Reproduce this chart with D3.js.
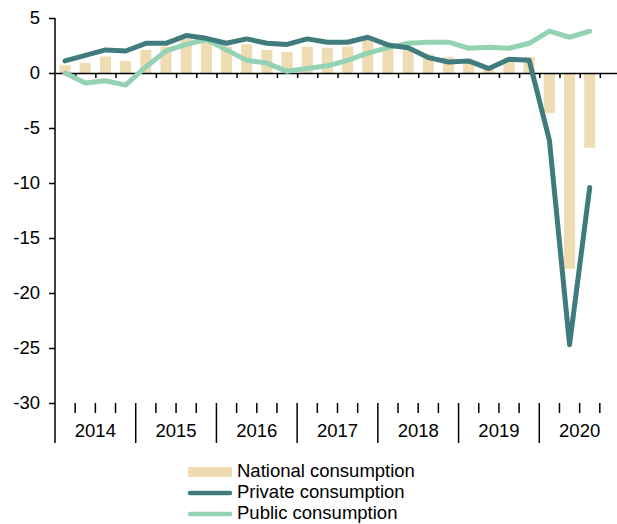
<!DOCTYPE html>
<html>
<head>
<meta charset="utf-8">
<script src="https://cdn.jsdelivr.net/npm/d3@7"></script>
<style>
  body { margin: 0; background: #fff; }
  svg { display: block; font-family: "Liberation Sans", Arial, sans-serif; }
</style>
</head>
<body>
<div id="chart"></div>
<script>
// quarters 2014Q1 .. 2020Q4 (last quarter has no data yet)
var years = ["2014", "2015", "2016", "2017", "2018", "2019", "2020"];
var quarters = [];
years.forEach(function(y) { for (var q = 1; q <= 4; q++) quarters.push(y + "Q" + q); });

var national = [0.7, 0.9, 1.5, 1.1, 2.1, 2.4, 3.1, 3.0, 2.4, 2.6, 2.1, 1.9, 2.4, 2.3,
                2.4, 3.0, 2.6, 2.2, 1.7, 1.45, 1.05, 0.7, 1.35, 1.45, -3.65, -17.8, -6.8];
var privateC = [1.1, 1.6, 2.1, 2.0, 2.7, 2.7, 3.4, 3.15, 2.7, 3.1, 2.7, 2.6, 3.1, 2.8,
                2.8, 3.25, 2.55, 2.3, 1.4, 1.0, 1.1, 0.4, 1.25, 1.15, -6.1, -24.7, -10.4];
var publicC = [0.0, -0.9, -0.7, -1.1, 0.55, 2.0, 2.6, 3.05, 2.1, 1.15, 0.9, 0.15, 0.4, 0.65,
               1.15, 1.8, 2.3, 2.7, 2.8, 2.8, 2.25, 2.35, 2.25, 2.7, 3.8, 3.25, 3.8];
var yTicks = [5, 0, -5, -10, -15, -20, -25, -30];
var legendLabels = ["National consumption", "Private consumption", "Public consumption"];

var colNational = "#efdcb3",
    colPrivate = "#407b7d",
    colPublic = "#93d3b4";

var width = 617, height = 524;
var mLeft = 55, mRight = 620, mTop = 18, mBottom = 403;
var fontSize = "18.5px";

var svg = d3.select("#chart").append("svg")
    .attr("width", width)
    .attr("height", height);

var x = d3.scaleBand().domain(quarters).range([mLeft, mRight]).paddingInner(0.45).paddingOuter(0.225);
var xq = d3.scaleLinear().domain([0, quarters.length]).range([mLeft, mRight]); // quarter boundaries
var y = d3.scaleLinear().domain([-30, 5]).range([mBottom, mTop]);

function cx(i) { return x(quarters[i]) + x.bandwidth() / 2; }

// bars
svg.append("g").selectAll("rect")
    .data(national)
    .enter()
    .append("rect")
    .attr("x", function(d, i) { return x(quarters[i]); })
    .attr("width", x.bandwidth())
    .attr("y", function(d) { return y(Math.max(0, d)); })
    .attr("height", function(d) { return Math.abs(y(d) - y(0)); })
    .attr("fill", colNational);

// zero line with quarter ticks
var zeroAxis = svg.append("g")
    .attr("transform", "translate(0," + y(0) + ")")
    .call(d3.axisBottom(xq)
        .tickValues(d3.range(1, quarters.length))
        .tickSize(5)
        .tickSizeOuter(0)
        .tickFormat(""));
zeroAxis.select(".domain").attr("stroke", "#000").attr("stroke-width", 1.5);
zeroAxis.selectAll(".tick line").attr("stroke", "#000").attr("stroke-width", 1.5);

// lines
var line = d3.line()
    .x(function(d, i) { return cx(i); })
    .y(function(d) { return y(d); });

svg.append("path")
    .datum(publicC)
    .attr("d", line)
    .attr("fill", "none")
    .attr("stroke", colPublic)
    .attr("stroke-width", 5)
    .attr("stroke-linejoin", "round")
    .attr("stroke-linecap", "round");

svg.append("path")
    .datum(privateC)
    .attr("d", line)
    .attr("fill", "none")
    .attr("stroke", colPrivate)
    .attr("stroke-width", 5)
    .attr("stroke-linejoin", "round")
    .attr("stroke-linecap", "round");

// y axis (plain hyphen for negatives, like the original)
var yAxis = svg.append("g")
    .attr("transform", "translate(" + mLeft + ",0)")
    .call(d3.axisLeft(y).tickValues(yTicks).tickSize(6).tickSizeOuter(0).tickPadding(9)
        .tickFormat(function(d) { return String(d); }));
yAxis.select(".domain").remove();
yAxis.append("line")
    .attr("y1", mTop).attr("y2", 443)
    .attr("stroke", "#000").attr("stroke-width", 1.5);
yAxis.selectAll(".tick line").attr("stroke", "#000").attr("stroke-width", 1.5);
yAxis.selectAll(".tick text")
    .attr("fill", "#000")
    .style("font-size", fontSize)
    .style("font-family", "'Liberation Sans', Arial, sans-serif");

// bottom category axis: quarter ticks, year separators, year labels
var bottomG = svg.append("g");
bottomG.selectAll("line")
    .data(d3.range(1, quarters.length))
    .enter()
    .append("line")
    .attr("x1", function(d) { return xq(d); })
    .attr("x2", function(d) { return xq(d); })
    .attr("y1", mBottom)
    .attr("y2", function(d) { return d % 4 === 0 ? 443 : 413; })
    .attr("stroke", "#000")
    .attr("stroke-width", 1.5);

bottomG.selectAll("text")
    .data(years)
    .enter()
    .append("text")
    .attr("x", function(d, i) { return xq(i * 4 + 2); })
    .attr("y", 437)
    .attr("text-anchor", "middle")
    .style("font-size", fontSize)
    .text(function(d) { return d; });

// legend
var legend = svg.append("g");
legend.append("rect")
    .attr("x", 188).attr("y", 467)
    .attr("width", 44).attr("height", 10)
    .attr("fill", colNational);
[[colPrivate, 493], [colPublic, 514]].forEach(function(p) {
    legend.append("line")
        .attr("x1", 190).attr("x2", 230)
        .attr("y1", p[1]).attr("y2", p[1])
        .attr("stroke", p[0])
        .attr("stroke-width", 4.5)
        .attr("stroke-linecap", "round");
});
legend.selectAll("text")
    .data(legendLabels)
    .enter()
    .append("text")
    .attr("x", 237)
    .attr("y", function(d, i) { return 477 + i * 21; })
    .style("font-size", fontSize)
    .text(function(d) { return d; });
</script>
</body>
</html>
